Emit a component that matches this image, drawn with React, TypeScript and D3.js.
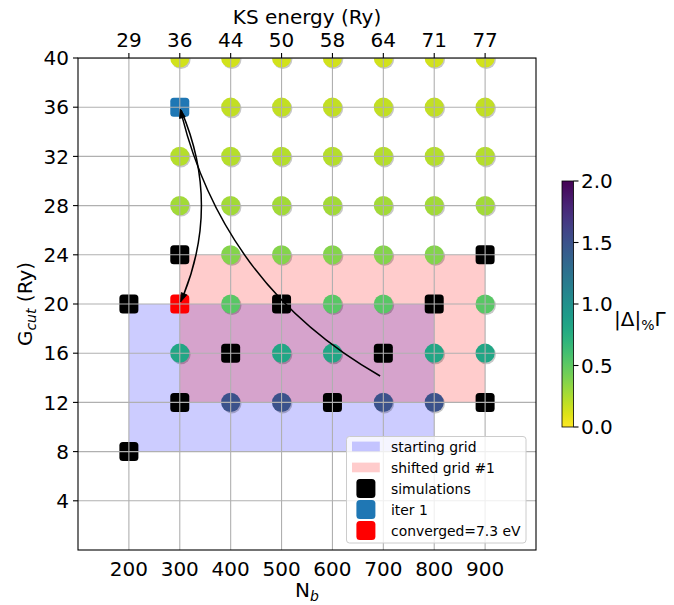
import React from "react";
import * as d3 from "d3";

// Axis ticks
const nbTicks = [200, 300, 400, 500, 600, 700, 800, 900];
const ksEnergyLabels = ["29", "36", "44", "50", "58", "64", "71", "77"];
const gcutTicks = [4, 8, 12, 16, 20, 24, 28, 32, 36, 40];
const colorbarTicks = [0, 0.5, 1, 1.5, 2];

// Scanned (N_b, G_cut) points and their |Δ|%Γ
const scanNb = [
  300, 400, 500, 600, 700, 800, 900,
  400, 500, 600, 700, 800, 900,
  300, 400, 500, 600, 700, 800, 900,
  300, 400, 500, 600, 700, 800, 900,
  400, 500, 600, 700, 800,
  400, 600, 700, 900,
  300, 500, 600, 800, 900,
  400, 500, 700, 800,
];
const scanGcut = [
  40, 40, 40, 40, 40, 40, 40,
  36, 36, 36, 36, 36, 36,
  32, 32, 32, 32, 32, 32, 32,
  28, 28, 28, 28, 28, 28, 28,
  24, 24, 24, 24, 24,
  20, 20, 20, 20,
  16, 16, 16, 16, 16,
  12, 12, 12, 12,
];
const scanDelta = [
  0.14, 0.14, 0.14, 0.14, 0.14, 0.14, 0.14,
  0.18, 0.18, 0.18, 0.18, 0.18, 0.18,
  0.22, 0.22, 0.22, 0.22, 0.22, 0.22, 0.22,
  0.28, 0.28, 0.28, 0.28, 0.28, 0.28, 0.28,
  0.37, 0.37, 0.37, 0.37, 0.37,
  0.52, 0.52, 0.52, 0.52,
  0.82, 0.82, 0.82, 0.82, 0.82,
  1.5, 1.5, 1.5, 1.5,
];

// Simulated points, first iteration and converged point
const simNb = [200, 200, 300, 300, 400, 500, 600, 700, 800, 900, 900];
const simGcut = [20, 8, 24, 12, 16, 20, 12, 16, 20, 24, 12];
const iterNb = [300];
const iterGcut = [36];
const convNb = [300];
const convGcut = [20];

// Grids (N_b range, G_cut range)
const startingGridNb = [200, 800];
const startingGridGcut = [8, 20];
const shiftedGridNb = [300, 900];
const shiftedGridGcut = [12, 24];

// Path arrows: from -> to
const arrowFromNb = [700, 300];
const arrowFromGcut = [14, 36];
const arrowToNb = [300, 300];
const arrowToGcut = [36, 20];
const arrowRad = -0.22;

const legendLabels = [
  "starting grid",
  "shifted grid #1",
  "simulations",
  "iter 1",
  "converged=7.3 eV",
];

const W = 674;
const H = 605;
const FONT = "DejaVu Sans, sans-serif";
const TICK_FS = 20;
const SUB_FS = 14;
const LEG_FS = 13.9;

const x = d3.scaleLinear().domain([100, 1000]).range([78, 536]);
const y = d3.scaleLinear().domain([0, 40]).range([550, 58]);
const cbar = d3.scaleLinear().domain([0, 2]).range([427, 181]);
const color = (v: number) => d3.interpolateViridis(1 - v / 2);

const MARK = 19;
const SIM_COLOR = "#000000";
const ITER_COLOR = "#1f77b4";
const CONV_COLOR = "#ff0000";

function Square({ cx, cy, fill }: { cx: number; cy: number; fill: string }) {
  return (
    <rect
      x={cx - MARK / 2}
      y={cy - MARK / 2}
      width={MARK}
      height={MARK}
      rx={3.5}
      fill={fill}
    />
  );
}

type Pt = [number, number];

// Quadratic arc between two points (arc3-style), shortened at both ends, with a filled head
function arrowGeometry(p0: Pt, p2: Pt, rad: number) {
  const [x1, y1] = p0;
  const [x2, y2] = p2;
  const xm = (x1 + x2) / 2;
  const ym = (y1 + y2) / 2;
  const c: Pt = [xm - rad * (y2 - y1), ym + rad * (x2 - x1)];
  const B = (t: number): Pt => [
    (1 - t) * (1 - t) * x1 + 2 * (1 - t) * t * c[0] + t * t * x2,
    (1 - t) * (1 - t) * y1 + 2 * (1 - t) * t * c[1] + t * t * y2,
  ];
  const dB = (t: number): Pt => [
    2 * ((1 - t) * (c[0] - x1) + t * (x2 - c[0])),
    2 * ((1 - t) * (c[1] - y1) + t * (y2 - c[1])),
  ];
  const N = 200;
  const lens: number[] = [0];
  let prev = B(0);
  for (let i = 1; i <= N; i++) {
    const p = B(i / N);
    lens.push(lens[i - 1] + Math.hypot(p[0] - prev[0], p[1] - prev[1]));
    prev = p;
  }
  const total = lens[N];
  const tAt = (s: number) => {
    const i = d3.bisectLeft(lens, s);
    return Math.min(1, Math.max(0, i / N));
  };
  const shrink = 2.8;
  const headLen = 9;
  const headW = 6;
  const t0 = tAt(shrink);
  const tTip = tAt(total - shrink);
  const tLine = tAt(total - shrink - headLen * 0.85);
  const sub = (ta: number, tb: number) => {
    const a = B(ta);
    const b = B(tb);
    const d = dB(ta);
    const ctrl: Pt = [a[0] + ((tb - ta) / 2) * d[0], a[1] + ((tb - ta) / 2) * d[1]];
    return `M${a[0]},${a[1]}Q${ctrl[0]},${ctrl[1]} ${b[0]},${b[1]}`;
  };
  const tip = B(tTip);
  const base = B(tAt(total - shrink - headLen));
  const dx = tip[0] - base[0];
  const dy = tip[1] - base[1];
  const L = Math.hypot(dx, dy) || 1;
  const ux = dx / L;
  const uy = dy / L;
  const bx = tip[0] - ux * headLen;
  const by = tip[1] - uy * headLen;
  const head = `M${tip[0]},${tip[1]}L${bx - (uy * headW) / 2},${by + (ux * headW) / 2}L${bx + (uy * headW) / 2},${by - (ux * headW) / 2}Z`;
  return { line: sub(t0, tLine), head };
}

export default function App() {
  const [xl, xr] = x.range();
  const [yb, yt] = y.range();

  const circles = scanNb.map((nb, i) => ({
    cx: x(nb),
    cy: y(scanGcut[i]),
    fill: color(scanDelta[i]),
  }));

  const arrows = arrowFromNb.map((nb, i) =>
    arrowGeometry(
      [x(nb), y(arrowFromGcut[i])],
      [x(arrowToNb[i]), y(arrowToGcut[i])],
      arrowRad
    )
  );

  const gradStops = d3.range(0, 1.0001, 0.05);

  const legX = 346.5;
  const legY = 436.5;
  const legRowY = [446.5, 467.5, 488.5, 509.5, 530.5];
  const handleX = 352;
  const textX = 391;

  return (
    <div style={{ position: "absolute", left: 0, top: 0 }}>
      <svg width={W} height={H} style={{ display: "block", fontFamily: FONT }}>
        <defs>
          <clipPath id="plot-area">
            <rect x={xl} y={yt} width={xr - xl} height={yb - yt} />
          </clipPath>
          <linearGradient id="cbar-grad" x1="0" y1="1" x2="0" y2="0">
            {gradStops.map((o) => (
              <stop key={o} offset={o} stopColor={d3.interpolateViridis(1 - o)} />
            ))}
          </linearGradient>
        </defs>
        <rect x={0} y={0} width={W} height={H} fill="#ffffff" />

        <g clipPath="url(#plot-area)">
          {/* grids */}
          <rect
            x={x(startingGridNb[0])}
            y={y(startingGridGcut[1])}
            width={x(startingGridNb[1]) - x(startingGridNb[0])}
            height={y(startingGridGcut[0]) - y(startingGridGcut[1])}
            fill="#0000ff"
            fillOpacity={0.2}
          />
          <rect
            x={x(shiftedGridNb[0])}
            y={y(shiftedGridGcut[1])}
            width={x(shiftedGridNb[1]) - x(shiftedGridNb[0])}
            height={y(shiftedGridGcut[0]) - y(shiftedGridGcut[1])}
            fill="#ff0000"
            fillOpacity={0.2}
          />

          {/* scanned points */}
          {circles.map((c, i) => (
            <g key={`c${i}`}>
              <circle cx={c.cx + 1.2} cy={c.cy + 1.4} r={9.6} fill="#000" fillOpacity={0.22} />
              <circle cx={c.cx} cy={c.cy} r={9.6} fill={c.fill} />
            </g>
          ))}

          {simNb.map((nb, i) => (
            <Square key={`s${i}`} cx={x(nb)} cy={y(simGcut[i])} fill={SIM_COLOR} />
          ))}
          {iterNb.map((nb, i) => (
            <Square key={`it${i}`} cx={x(nb)} cy={y(iterGcut[i])} fill={ITER_COLOR} />
          ))}
          {convNb.map((nb, i) => (
            <Square key={`cv${i}`} cx={x(nb)} cy={y(convGcut[i])} fill={CONV_COLOR} />
          ))}

          {/* grid lines */}
          {nbTicks.map((t) => (
            <line key={`gx${t}`} x1={x(t)} x2={x(t)} y1={yt} y2={yb} stroke="#b0b0b0" strokeWidth={1.1} />
          ))}
          {gcutTicks.map((t) => (
            <line key={`gy${t}`} x1={xl} x2={xr} y1={y(t)} y2={y(t)} stroke="#b0b0b0" strokeWidth={1.1} />
          ))}

          {/* arrows */}
          {arrows.map((a, i) => (
            <g key={`a${i}`}>
              <path d={a.line} fill="none" stroke="#000" strokeWidth={1.5} />
              <path d={a.head} fill="#000" stroke="#000" strokeWidth={0.8} strokeLinejoin="miter" />
            </g>
          ))}
        </g>

        {/* spines */}
        <rect x={xl} y={yt} width={xr - xl} height={yb - yt} fill="none" stroke="#000" strokeWidth={1.1} />

        {/* left axis */}
        {gcutTicks.map((t) => (
          <g key={`ly${t}`}>
            <line x1={xl - 5} x2={xl} y1={y(t)} y2={y(t)} stroke="#000" strokeWidth={1.1} />
            <text x={xl - 9} y={y(t) + 7.2} textAnchor="end" fontSize={TICK_FS} fill="#000">
              {t}
            </text>
          </g>
        ))}

        {/* bottom axis */}
        {nbTicks.map((t) => (
          <text key={`bx${t}`} x={x(t)} y={575.5} textAnchor="middle" fontSize={TICK_FS} fill="#000">
            {t}
          </text>
        ))}

        {/* top axis */}
        {nbTicks.map((t, i) => (
          <g key={`tx${t}`}>
            <line x1={x(t)} x2={x(t)} y1={yt - 5} y2={yt} stroke="#000" strokeWidth={1.1} />
            <text x={x(t)} y={47} textAnchor="middle" fontSize={TICK_FS} fill="#000">
              {ksEnergyLabels[i]}
            </text>
          </g>
        ))}
        <text x={(xl + xr) / 2} y={24} textAnchor="middle" fontSize={TICK_FS} fill="#000">
          KS energy (Ry)
        </text>

        {/* axis labels */}
        <text x={(xl + xr) / 2} y={597} textAnchor="middle" fontSize={TICK_FS} fill="#000">
          N
          <tspan fontSize={SUB_FS} fontStyle="italic" dy={4}>
            b
          </tspan>
        </text>
        <text
          transform={`translate(32,${(yt + yb) / 2}) rotate(-90)`}
          textAnchor="middle"
          fontSize={TICK_FS}
          fill="#000"
        >
          G
          <tspan fontSize={SUB_FS} fontStyle="italic" dy={4}>
            cut
          </tspan>
          <tspan dy={-4}> (Ry)</tspan>
        </text>

        {/* colorbar */}
        <rect
          x={562}
          y={cbar(2)}
          width={11.5}
          height={cbar(0) - cbar(2)}
          fill="url(#cbar-grad)"
          stroke="#000"
          strokeWidth={0.8}
        />
        {colorbarTicks.map((t) => (
          <g key={`cb${t}`}>
            <line x1={573.5} x2={578.5} y1={cbar(t)} y2={cbar(t)} stroke="#000" strokeWidth={1.1} />
            <text x={581} y={cbar(t) + 7.2} fontSize={TICK_FS} fill="#000">
              {t.toFixed(1)}
            </text>
          </g>
        ))}
        <text x={614} y={326} fontSize={TICK_FS} fill="#000">
          |Δ|
          <tspan fontSize={SUB_FS} dy={4}>
            %
          </tspan>
          <tspan dy={-4}>Γ</tspan>
        </text>

        {/* legend */}
        <rect
          x={legX}
          y={legY}
          width={179.5}
          height={106.5}
          rx={3}
          fill="#ffffff"
          fillOpacity={0.8}
          stroke="#cccccc"
          strokeWidth={1}
        />
        <rect x={handleX} y={legRowY[0] - 4.9} width={27.8} height={9.7} fill="#0000ff" fillOpacity={0.2} />
        <rect x={handleX} y={legRowY[1] - 4.9} width={27.8} height={9.7} fill="#ff0000" fillOpacity={0.2} />
        <Square cx={handleX + 13.9} cy={legRowY[2]} fill={SIM_COLOR} />
        <Square cx={handleX + 13.9} cy={legRowY[3]} fill={ITER_COLOR} />
        <Square cx={handleX + 13.9} cy={legRowY[4]} fill={CONV_COLOR} />
        {legendLabels.map((l, i) => (
          <text key={l} x={textX} y={legRowY[i] + 5} fontSize={LEG_FS} fill="#000">
            {l}
          </text>
        ))}
      </svg>
    </div>
  );
}
